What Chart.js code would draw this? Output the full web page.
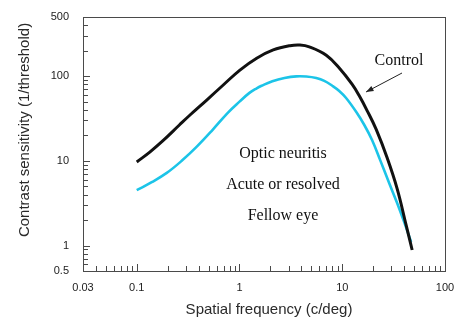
<!DOCTYPE html>
<html>
<head>
<meta charset="utf-8">
<script src="https://cdn.jsdelivr.net/npm/chart.js@4/dist/chart.umd.min.js"></script>
<style>
  html, body { margin: 0; padding: 0; background: #fff; }
  #wrap { width: 454px; height: 320px; position: relative; }
</style>
</head>
<body>
<div id="wrap"><canvas id="csf" width="454" height="320"></canvas></div>
<script>
// Contrast sensitivity functions (log-log)
const freqControl = [0.1, 0.134, 0.179, 0.26, 0.33, 0.48, 0.695, 1.01, 1.47, 2.13, 3.1, 3.88, 4.78, 6.99, 9.35, 12.5, 14.6, 17.5, 21.4, 27.4, 34.2, 41.8, 47.9];
const sensControl = [9.7, 12.7, 17.2, 26.5, 34.8, 52.3, 78.7, 118, 163, 204, 229, 233, 222, 177, 125, 80, 59, 39, 23.5, 10.8, 4.7, 1.75, 0.885];

const freqFellow = [0.1, 0.14, 0.196, 0.274, 0.382, 0.535, 0.765, 1.0, 1.25, 1.47, 1.64, 2.09, 2.74, 3.58, 4.47, 5.59, 6.69, 8.0, 9.35, 10.9, 13.7, 16.4, 19.5, 23.4, 28.6, 34.2, 40.0, 46.8];
const sensFellow = [4.5, 5.6, 7.2, 10, 14.6, 22.5, 36.7, 50, 63.5, 72, 77, 87, 95, 99.5, 99, 95, 88, 77, 66.8, 55.2, 37.7, 26.5, 17.6, 10.2, 5.47, 3.18, 1.9, 1.1];

const xTickValues = [0.03, 0.1, 1, 10, 100];
const yTickValues = [0.5, 1, 10, 100, 500];

const xTitle = 'Spatial frequency (c/deg)';
const yTitle = 'Contrast sensitivity (1/threshold)';
const groupLines = ['Optic neuritis', 'Acute or resolved', 'Fellow eye'];
const controlLabel = 'Control';

const toPoints = (xs, ys) => xs.map((x, i) => ({ x: x, y: ys[i] }));

// minor tick values for each decade of a log axis
function logTicks(min, max) {
  const out = [];
  for (let e = Math.floor(Math.log10(min)); e <= Math.ceil(Math.log10(max)); e++) {
    for (let m = 1; m <= 9; m++) {
      const v = m * Math.pow(10, e);
      if (v >= min * 0.999 && v <= max * 1.001) out.push({ v: v, major: m === 1 });
    }
  }
  return out;
}

const framePlugin = {
  id: 'frame',
  afterDraw(chart) {
    const { ctx, chartArea: a, scales } = chart;
    ctx.save();
    ctx.strokeStyle = '#4a4a4a';
    ctx.lineWidth = 1;
    ctx.strokeRect(a.left + 0.5, a.top + 0.5, a.right - a.left, a.bottom - a.top);

    // inward ticks on the bottom axis
    ctx.beginPath();
    logTicks(0.03, 100).forEach(t => {
      const px = Math.round(scales.x.getPixelForValue(t.v)) + 0.5;
      if (px <= a.left + 1 || px >= a.right - 1) return;
      const len = t.major ? 7 : 5;
      ctx.moveTo(px, a.bottom);
      ctx.lineTo(px, a.bottom - len);
    });
    // inward ticks on the left axis
    logTicks(0.5, 500).forEach(t => {
      const py = Math.round(scales.y.getPixelForValue(t.v)) + 0.5;
      if (py <= a.top + 1 || py >= a.bottom - 1) return;
      const len = t.major ? 7 : 5;
      ctx.moveTo(a.left, py);
      ctx.lineTo(a.left + len, py);
    });
    ctx.stroke();

    // axis titles
    ctx.fillStyle = '#2a2a2a';
    ctx.font = '15px "Liberation Sans", Arial, sans-serif';
    ctx.textAlign = 'center';
    ctx.textBaseline = 'middle';
    ctx.fillText(xTitle, a.left + 186, a.bottom + 39);
    ctx.save();
    ctx.translate(a.left - 58, a.top + 113);
    ctx.rotate(-Math.PI / 2);
    ctx.fillText(yTitle, 0, 0);
    ctx.restore();

    // group description
    ctx.fillStyle = '#111';
    ctx.font = '16px "Liberation Serif", "Times New Roman", serif';
    groupLines.forEach((s, i) => {
      ctx.fillText(s, a.left + 200, a.top + 137 + i * 31);
    });

    // control label with arrow
    ctx.fillText(controlLabel, a.left + 316, a.top + 44);
    const x0 = a.left + 319, y0 = a.top + 56, x1 = a.left + 283, y1 = a.top + 75;
    ctx.strokeStyle = '#222';
    ctx.lineWidth = 1;
    ctx.beginPath();
    ctx.moveTo(x0, y0);
    ctx.lineTo(x1, y1);
    ctx.stroke();
    const ang = Math.atan2(y1 - y0, x1 - x0);
    ctx.beginPath();
    ctx.moveTo(x1, y1);
    ctx.lineTo(x1 - 8 * Math.cos(ang - 0.35), y1 - 8 * Math.sin(ang - 0.35));
    ctx.lineTo(x1 - 8 * Math.cos(ang + 0.35), y1 - 8 * Math.sin(ang + 0.35));
    ctx.closePath();
    ctx.fillStyle = '#222';
    ctx.fill();
    ctx.restore();
  }
};

const tickFont = { family: '"Liberation Sans", Arial, sans-serif', size: 11 };

new Chart(document.getElementById('csf'), {
  type: 'line',
  data: {
    datasets: [
      {
        label: 'Control',
        data: toPoints(freqControl, sensControl),
        borderColor: '#111111',
        borderWidth: 3,
        pointRadius: 0,
        tension: 0.4,
        fill: false
      },
      {
        label: 'Fellow eye',
        data: toPoints(freqFellow, sensFellow),
        borderColor: '#1cc4e8',
        borderWidth: 2.6,
        pointRadius: 0,
        tension: 0.4,
        fill: false
      }
    ]
  },
  options: {
    responsive: false,
    animation: false,
    devicePixelRatio: 1,
    layout: { padding: { top: 17, right: 9, left: 0, bottom: 0 } },
    plugins: { legend: { display: false }, tooltip: { enabled: false } },
    scales: {
      x: {
        type: 'logarithmic',
        min: 0.03,
        max: 100,
        afterBuildTicks: s => { s.ticks = xTickValues.map(v => ({ value: v })); },
        afterFit: s => { s.height = 49; s.paddingLeft = 0; s.paddingRight = 0; },
        grid: { display: false, drawTicks: false },
        border: { display: false },
        ticks: {
          autoSkip: false,
          maxRotation: 0,
          padding: 10,
          color: '#222',
          font: tickFont,
          callback: v => String(v)
        }
      },
      y: {
        type: 'logarithmic',
        min: 0.5,
        max: 500,
        afterBuildTicks: s => { s.ticks = yTickValues.map(v => ({ value: v })); },
        afterFit: s => { s.width = 83; s.paddingTop = 0; s.paddingBottom = 0; },
        grid: { display: false, drawTicks: false },
        border: { display: false },
        ticks: {
          autoSkip: false,
          padding: 14,
          color: '#222',
          font: tickFont,
          callback: v => String(v)
        }
      }
    }
  },
  plugins: [framePlugin]
});
</script>
</body>
</html>
